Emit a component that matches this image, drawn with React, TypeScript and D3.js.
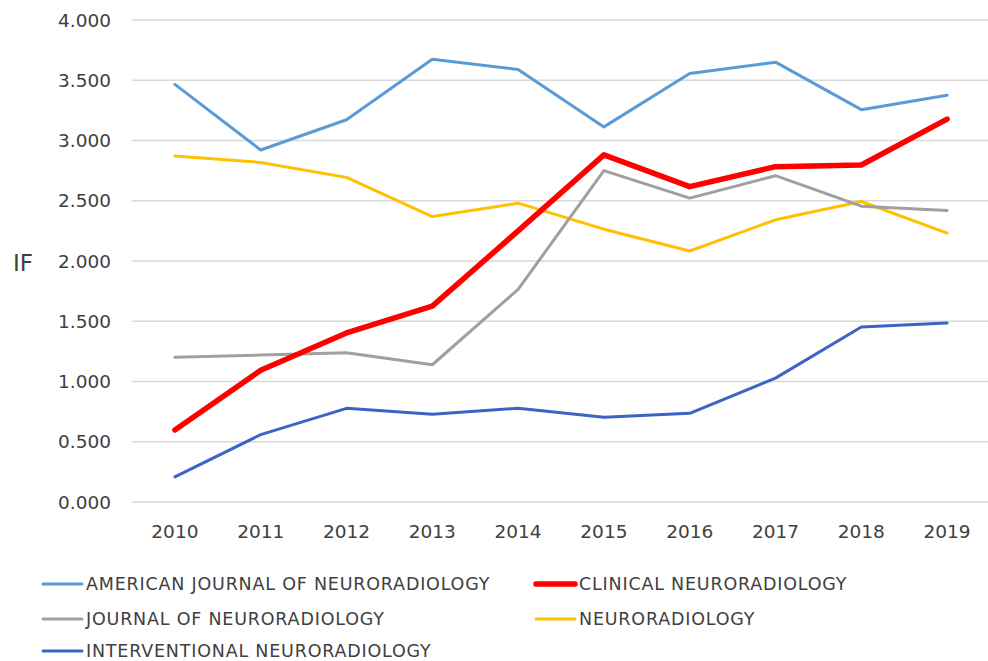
import { scaleBand, scaleLinear, line as d3line } from "d3";

const years = ["2010", "2011", "2012", "2013", "2014", "2015", "2016", "2017", "2018", "2019"];

const ajnr = [3.466, 2.921, 3.172, 3.675, 3.589, 3.113, 3.556, 3.65, 3.256, 3.376];
const clinical = [0.598, 1.093, 1.403, 1.625, 2.25, 2.881, 2.617, 2.783, 2.797, 3.178];
const journal = [1.202, 1.219, 1.238, 1.139, 1.764, 2.75, 2.522, 2.708, 2.455, 2.419];
const neurorad = [2.871, 2.818, 2.694, 2.369, 2.48, 2.264, 2.083, 2.342, 2.494, 2.231];
const interventional = [0.208, 0.559, 0.777, 0.728, 0.778, 0.703, 0.736, 1.028, 1.453, 1.486];

const yTicks = [0, 0.5, 1, 1.5, 2, 2.5, 3, 3.5, 4];

const series = [
  { name: "AMERICAN JOURNAL OF NEURORADIOLOGY", values: ajnr, color: "#5b9bd5", width: 3 },
  { name: "CLINICAL NEURORADIOLOGY", values: clinical, color: "#ff0000", width: 5.5 },
  { name: "JOURNAL OF NEURORADIOLOGY", values: journal, color: "#a0a0a0", width: 3 },
  { name: "NEURORADIOLOGY", values: neurorad, color: "#ffc000", width: 3 },
  { name: "INTERVENTIONAL NEURORADIOLOGY", values: interventional, color: "#3d63c6", width: 3 },
];

// drawing order: light blue, yellow, gray, dark blue, red on top
const drawOrder = [0, 3, 2, 4, 1];

export default function App() {
  const width = 988;
  const height = 661;
  const font = "'DejaVu Sans', sans-serif";

  const x = scaleBand<string>().domain(years).range([132, 990]);
  const y = scaleLinear().domain([0, 4]).range([502, 20]);
  const cx = (i: number) => (x(years[i]) ?? 0) + x.bandwidth() / 2;

  const line = d3line<number>()
    .x((_, i) => cx(i))
    .y((d) => y(d));

  const legendPos = [
    { x: 43, y: 584 },
    { x: 536, y: 584 },
    { x: 43, y: 619 },
    { x: 536, y: 619 },
    { x: 43, y: 651 },
  ];

  return (
    <div style={{ position: "absolute", left: 0, top: 0 }}>
      <svg width={width} height={height} style={{ display: "block", background: "#fff" }}>
        {/* Grid lines */}
        {yTicks.map((t) => (
          <line key={t} x1={132} x2={990} y1={y(t)} y2={y(t)} stroke="#d9d9d9" strokeWidth={1.5} />
        ))}

        {/* Y tick labels */}
        {yTicks.map((t) => (
          <text
            key={t}
            x={111}
            y={y(t)}
            dy="0.36em"
            textAnchor="end"
            fontFamily={font}
            fontSize={18.5}
            fill="#404040"
          >
            {t.toFixed(3)}
          </text>
        ))}

        {/* X tick labels */}
        {years.map((yr, i) => (
          <text
            key={yr}
            x={cx(i)}
            y={531}
            dy="0.36em"
            textAnchor="middle"
            fontFamily={font}
            fontSize={18.5}
            fill="#404040"
          >
            {yr}
          </text>
        ))}

        {/* Axis title */}
        <text x={13} y={263} dy="0.36em" fontFamily={font} fontSize={23} fill="#404040">
          IF
        </text>

        {/* Lines */}
        {drawOrder.map((k) => {
          const s = series[k];
          return (
            <path
              key={s.name}
              d={line(s.values) ?? undefined}
              fill="none"
              stroke={s.color}
              strokeWidth={s.width}
              strokeLinejoin="round"
              strokeLinecap="round"
            />
          );
        })}

        {/* Legend */}
        {series.map((s, i) => {
          const p = legendPos[i];
          return (
            <g key={s.name} transform={`translate(${p.x},${p.y})`}>
              <line x1={0} x2={39} y1={0} y2={0} stroke={s.color} strokeWidth={s.width} strokeLinecap="round" />
              <text
                x={43}
                y={0}
                dy="0.36em"
                fontFamily={font}
                fontSize={17.5}
                letterSpacing={0.8}
                fill="#404040"
              >
                {s.name}
              </text>
            </g>
          );
        })}
      </svg>
    </div>
  );
}
